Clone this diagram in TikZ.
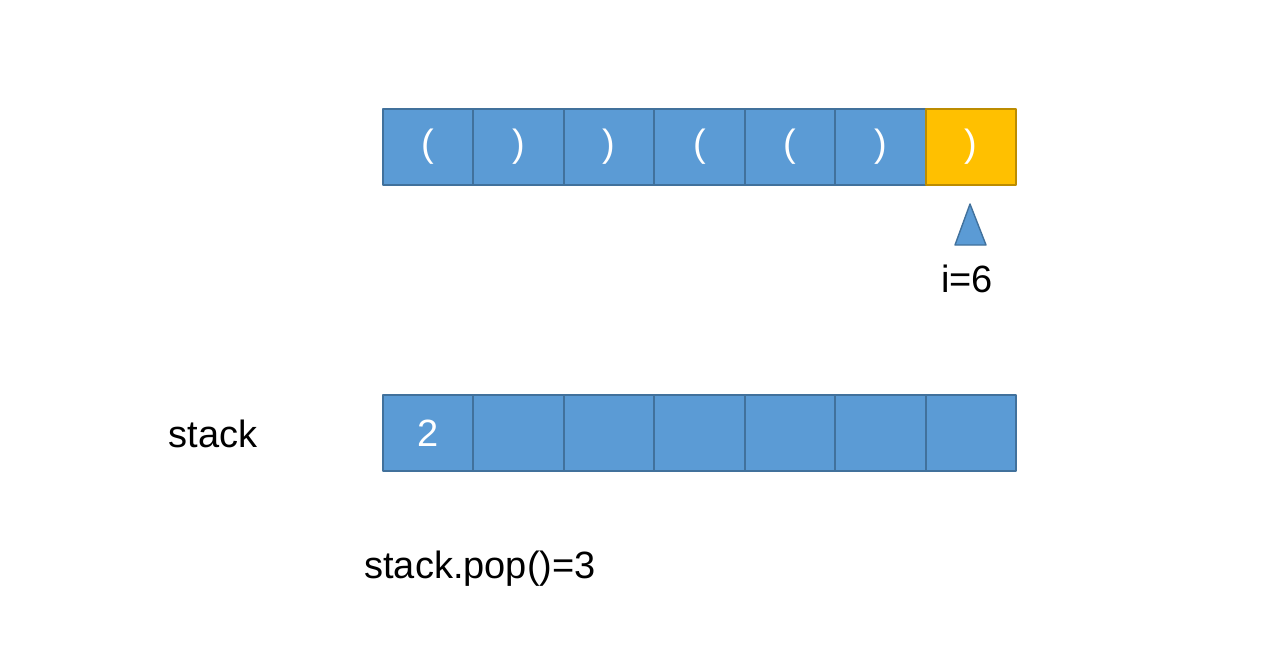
\documentclass[tikz,border=0pt]{standalone}
\usepackage{fontspec}
\setmainfont{Liberation Sans}
\usetikzlibrary{positioning}

\definecolor{cellblue}{HTML}{5B9BD5}
\definecolor{cellline}{HTML}{41719C}
\definecolor{curfill}{HTML}{FFC000}
\definecolor{curline}{HTML}{BC8C00}

\begin{document}
\begin{tikzpicture}[
		x=1pt, y=-1pt,
		every node/.style={font=\fontsize{38}{44}\selectfont},
		cell/.style={draw=cellline, fill=cellblue, line width=1.8pt,
			minimum width=90.5pt, minimum height=76pt, outer sep=0pt,
			inner sep=0pt, text=white},
		current/.style={cell, draw=curline, fill=curfill},
		line join=round
		]
		% =========================
		% Canvas
		% =========================
		\useasboundingbox (0,0) rectangle (1282,670);
		
		% --------------------------------
		% Input string
		% --------------------------------
		\node[cell] (c0) at (428,147) {(};
		\foreach \ch [count=\k, remember=\k as \j (initially 0)] in {{)},{)},{(},{(},{)}}
		{
			\node[cell, right=0pt of c\j] (c\k) {\ch};
		}
		\node[current, right=0pt of c5] (c6) {)};
		
		% --------------------------------
		% Pointer i
		% --------------------------------
		\draw[draw=cellline, fill=cellblue, line width=1.4pt]
		(955,245) -- (970,204) -- (986,245) -- cycle;
		\node (ptr) at (967,279) {i=6};
		
		% --------------------------------
		% Stack
		% --------------------------------
		\node (slabel) at (213,434) {stack};
		\node[cell] (s0) at (428,433) {2};
		\foreach \k [remember=\k as \j (initially 0)] in {1,...,6}
		{
			\node[cell, right=0pt of s\j] (s\k) {};
		}
		
		\node (pop) at (480,569) {stack.pop()=3};
		
	\end{tikzpicture}
\end{document}
